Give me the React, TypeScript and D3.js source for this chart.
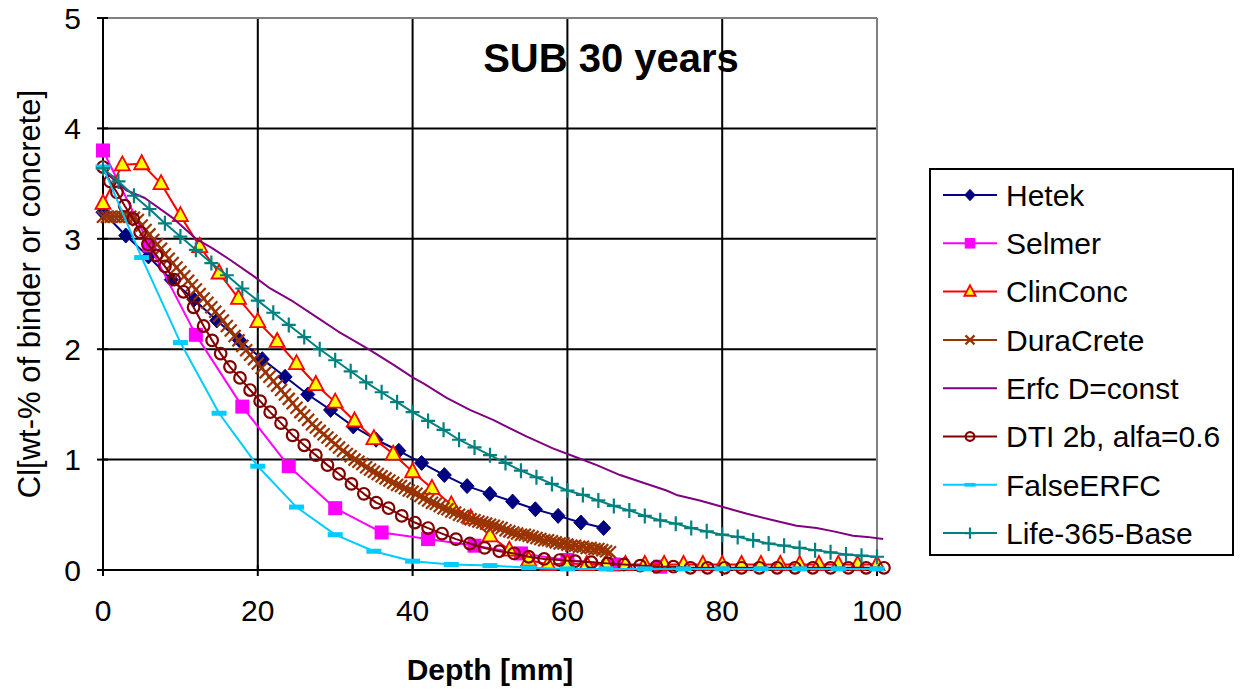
import React from "react";
import * as d3 from "d3";

const hetekX = [0, 2.94, 5.88, 8.82, 11.76, 14.7, 17.64, 20.58, 23.52, 26.46, 29.4, 32.34, 35.28, 38.22, 41.16, 44.1, 47.04, 49.98, 52.92, 55.86, 58.8, 61.74, 64.68];
const hetekY = [3.24, 3.03, 2.84, 2.63, 2.45, 2.26, 2.08, 1.91, 1.75, 1.59, 1.45, 1.30, 1.18, 1.08, 0.97, 0.86, 0.76, 0.69, 0.62, 0.55, 0.49, 0.43, 0.38];

const selmerX = [0, 6, 12, 18, 24, 30, 36, 42, 48, 54, 60, 66, 72];
const selmerY = [3.80, 2.94, 2.13, 1.48, 0.94, 0.56, 0.34, 0.28, 0.22, 0.15, 0.09, 0.05, 0.03];

const clinX = [0, 2.5, 5, 7.5, 10, 12.5, 15, 17.5, 20, 22.5, 25, 27.5, 30, 32.5, 35, 37.5, 40, 42.5, 45, 47.5, 50, 52.5, 55, 57.5, 60, 62.5, 65, 67.5, 70, 72.5, 75, 77.5, 80, 82.5, 85, 87.5, 90, 92.5, 95, 97.5, 100];
const clinY = [3.32, 3.67, 3.68, 3.50, 3.21, 2.93, 2.69, 2.46, 2.25, 2.07, 1.87, 1.68, 1.52, 1.35, 1.19, 1.05, 0.89, 0.74, 0.59, 0.47, 0.31, 0.18, 0.09, 0.05, 0.06, 0.05, 0.05, 0.05, 0.05, 0.05, 0.05, 0.05, 0.05, 0.05, 0.05, 0.05, 0.05, 0.05, 0.05, 0.05, 0.05];

const duraX = [0, 0.5, 1, 1.5, 2, 2.5, 3, 3.5, 4, 4.5, 5, 5.5, 6, 6.5, 7, 7.5, 8, 8.5, 9, 9.5, 10, 10.5, 11, 11.5, 12, 12.5, 13, 13.5, 14, 14.5, 15, 15.5, 16, 16.5, 17, 17.5, 18, 18.5, 19, 19.5, 20, 20.5, 21, 21.5, 22, 22.5, 23, 23.5, 24, 24.5, 25, 25.5, 26, 26.5, 27, 27.5, 28, 28.5, 29, 29.5, 30, 30.5, 31, 31.5, 32, 32.5, 33, 33.5, 34, 34.5, 35, 35.5, 36, 36.5, 37, 37.5, 38, 38.5, 39, 39.5, 40, 40.5, 41, 41.5, 42, 42.5, 43, 43.5, 44, 44.5, 45, 45.5, 46, 46.5, 47, 47.5, 48, 48.5, 49, 49.5, 50, 50.5, 51, 51.5, 52, 52.5, 53, 53.5, 54, 54.5, 55, 55.5, 56, 56.5, 57, 57.5, 58, 58.5, 59, 59.5, 60, 60.5, 61, 61.5, 62, 62.5, 63, 63.5, 64, 64.5, 65, 65.5];
const duraY = [3.20, 3.20, 3.20, 3.20, 3.20, 3.20, 3.20, 3.20, 3.19,
  3.17, 3.12, 3.08, 3.04, 2.99, 2.95, 2.91, 2.86, 2.82, 2.78, 2.74, 2.70,
  2.66, 2.62, 2.58, 2.54, 2.50, 2.46, 2.42, 2.38, 2.34, 2.30,
  2.26, 2.21, 2.17, 2.12, 2.08, 2.03, 1.99, 1.95, 1.91, 1.87,
  1.83, 1.79, 1.75, 1.71, 1.67, 1.63, 1.59, 1.55, 1.51, 1.47,
  1.43, 1.40, 1.36, 1.32, 1.29, 1.26, 1.23, 1.20, 1.17, 1.14,
  1.11, 1.08, 1.05, 1.03, 1.00, 0.98, 0.96, 0.93, 0.91, 0.89,
  0.87, 0.85, 0.83, 0.81, 0.79, 0.77, 0.76, 0.74, 0.72, 0.71,
  0.69, 0.67, 0.65, 0.63, 0.61, 0.60, 0.58, 0.56, 0.55, 0.53,
  0.52, 0.50, 0.49, 0.48, 0.46, 0.45, 0.44, 0.43, 0.42, 0.41,
  0.40, 0.39, 0.38, 0.36, 0.35, 0.34, 0.33, 0.32, 0.32, 0.31,
  0.30, 0.29, 0.28, 0.27, 0.27, 0.26, 0.25, 0.24, 0.24, 0.23,
  0.22, 0.22, 0.21, 0.21, 0.20, 0.20, 0.19, 0.19, 0.18, 0.17, 0.16];

const erfcX = [0, 3, 5.4, 9, 12, 14, 16.4, 19.5, 21.6, 24.6, 27.6, 30.4, 34.3, 37.5, 40.1, 41.4, 44.4, 47.4, 50.4, 54.7, 58.2, 60.8, 63.8, 66.8, 69.8, 72.8, 74.1, 77.1, 80.1, 83.2, 86.6, 89.6, 92.2, 94.4, 96.9, 98.7, 100.8];
const erfcY = [3.62, 3.44, 3.37, 3.19, 3.00, 2.92, 2.81, 2.66, 2.55, 2.43, 2.29, 2.16, 2.00, 1.86, 1.74, 1.69, 1.56, 1.45, 1.36, 1.21, 1.10, 1.03, 0.95, 0.86, 0.79, 0.72, 0.68, 0.63, 0.57, 0.51, 0.45, 0.40, 0.38, 0.35, 0.31, 0.30, 0.28];

const dtiX = [0, 0.9, 1.8, 2.8, 3.9, 4.8, 5.8, 6.9, 8.0, 9.2, 10.4, 11.7, 13.0, 14.1, 15.2, 16.4, 17.7, 19.0, 20.3, 21.6, 23.0, 24.5, 26.0, 27.5, 29.0, 30.5, 32.1, 33.7, 35.3, 36.9, 38.6, 40.3, 42.0, 43.8, 45.6, 47.4, 49.3, 51.2, 53.1, 55.0, 57.0, 59.0, 61.0, 63.1, 65.2, 67.3, 69.4, 71.5, 73.7, 75.9, 78.1, 80.3, 82.5, 84.8, 87.1, 89.4, 91.7, 94.0, 96.3, 98.6, 100.9];
const dtiY = [3.65, 3.52, 3.42, 3.30, 3.18, 3.06, 2.95, 2.85, 2.75, 2.63, 2.52, 2.38, 2.21, 2.08, 1.96, 1.84, 1.74, 1.63, 1.53, 1.43, 1.33, 1.22, 1.13, 1.04, 0.95, 0.87, 0.78, 0.69, 0.61, 0.56, 0.49, 0.43, 0.38, 0.33, 0.28, 0.24, 0.20, 0.17, 0.15, 0.12, 0.10, 0.09, 0.08, 0.07, 0.06, 0.05, 0.04, 0.03, 0.03, 0.02, 0.02, 0.02, 0.02, 0.02, 0.02, 0.02, 0.02, 0.02, 0.02, 0.02, 0.02];

const falseX = [0, 5, 10, 15, 20, 25, 30, 35, 40, 45, 50, 55, 60, 65, 70, 75, 80, 85, 90, 95, 100];
const falseY = [3.65, 2.83, 2.06, 1.42, 0.94, 0.57, 0.32, 0.17, 0.08, 0.05, 0.04, 0.02, 0.01, 0.01, 0.01, 0.01, 0.01, 0.01, 0.01, 0.01, 0.01];

const lifeX = [0, 2, 4, 6, 8, 10, 12, 14, 16, 18, 20, 22, 24, 26, 28, 30, 32, 34, 36, 38, 40, 42, 44, 46, 48, 50, 52, 54, 56, 58, 60, 62, 64, 66, 68, 70, 72, 74, 76, 78, 80, 82, 84, 86, 88, 90, 92, 94, 96, 98, 100];
const lifeY = [3.64, 3.52, 3.39, 3.27, 3.14, 3.02, 2.90, 2.78, 2.67, 2.55, 2.44, 2.33, 2.22, 2.11, 2.00, 1.90, 1.80, 1.70, 1.61, 1.52, 1.43, 1.35, 1.27, 1.18, 1.11, 1.04, 0.97, 0.90, 0.84, 0.78, 0.72, 0.68, 0.63, 0.58, 0.54, 0.49, 0.45, 0.42, 0.38, 0.35, 0.32, 0.30, 0.27, 0.24, 0.22, 0.20, 0.18, 0.16, 0.14, 0.13, 0.12];

const xTicks = [0, 20, 40, 60, 80, 100];
const yTicks = [0, 1, 2, 3, 4, 5];

const FONT = "'Liberation Sans', Arial, sans-serif";

type Marker = "diamond" | "square" | "triangle" | "cross" | "none" | "circle" | "dash" | "plus";
interface Series { name: string; xs: number[]; ys: number[]; color: string; marker: Marker; }

const series: Series[] = [
  { name: "Hetek", xs: hetekX, ys: hetekY, color: "#000080", marker: "diamond" },
  { name: "Selmer", xs: selmerX, ys: selmerY, color: "#FF00FF", marker: "square" },
  { name: "ClinConc", xs: clinX, ys: clinY, color: "#FF0000", marker: "triangle" },
  { name: "DuraCrete", xs: duraX, ys: duraY, color: "#993300", marker: "cross" },
  { name: "Erfc D=const", xs: erfcX, ys: erfcY, color: "#800080", marker: "none" },
  { name: "DTI 2b, alfa=0.6", xs: dtiX, ys: dtiY, color: "#800000", marker: "circle" },
  { name: "FalseERFC", xs: falseX, ys: falseY, color: "#00CCFF", marker: "dash" },
  { name: "Life-365-Base", xs: lifeX, ys: lifeY, color: "#008080", marker: "plus" },
];

function drawMarker(m: Marker, cx: number, cy: number, color: string, key: string, s = 1) {
  switch (m) {
    case "diamond":
      return <path key={key} d={`M${cx},${cy - 7.5 * s}L${cx + 7 * s},${cy}L${cx},${cy + 7.5 * s}L${cx - 7 * s},${cy}Z`} fill={color} stroke={color} strokeWidth={1} />;
    case "square":
      return <rect key={key} x={cx - 7 * s} y={cy - 7 * s} width={14 * s} height={14 * s} fill={color} />;
    case "triangle":
      return <path key={key} d={`M${cx},${cy - 8.5 * s}L${cx + 7.5 * s},${cy + 5.5 * s}L${cx - 7.5 * s},${cy + 5.5 * s}Z`} fill="#FFFF00" stroke="#FF0000" strokeWidth={1.8} />;
    case "cross":
      return <path key={key} d={`M${cx - 6 * s},${cy - 6 * s}L${cx + 6 * s},${cy + 6 * s}M${cx + 6 * s},${cy - 6 * s}L${cx - 6 * s},${cy + 6 * s}`} stroke={color} strokeWidth={2.2} fill="none" />;
    case "circle":
      return <circle key={key} cx={cx} cy={cy} r={5.8 * s} fill="none" stroke={color} strokeWidth={2.2} />;
    case "dash":
      return <rect key={key} x={cx - 7.5 * s} y={cy - 2.5 * s} width={15 * s} height={5 * s} fill={color} />;
    case "plus":
      return <path key={key} d={`M${cx - 7 * s},${cy}L${cx + 7 * s},${cy}M${cx},${cy - 7.5 * s}L${cx},${cy + 7.5 * s}`} stroke={color} strokeWidth={2.2} fill="none" />;
    default:
      return null;
  }
}

export default function App() {
  const W = 1241, H = 691;
  const x = d3.scaleLinear().domain([0, 100]).range([103, 877]);
  const y = d3.scaleLinear().domain([0, 5]).range([570, 18]);
  const line = d3.line<[number, number]>().x(d => x(d[0])).y(d => y(d[1]));

  const legX = 930, legY = 169, legW = 303, legH = 386;
  const legStep = 48.3;

  return (
    <svg width={W} height={H} style={{ position: "absolute", left: 0, top: 0, background: "#fff" }} fontFamily={FONT}>
      <rect x={0} y={0} width={W} height={H} fill="#fff" />
      {xTicks.filter(t => t > 0 && t < 100).map(t => (
        <line key={"gx" + t} x1={x(t)} x2={x(t)} y1={y(5)} y2={y(0)} stroke="#000" strokeWidth={2} />
      ))}
      {yTicks.filter(t => t > 0 && t < 5).map(t => (
        <line key={"gy" + t} x1={x(0)} x2={x(100)} y1={y(t)} y2={y(t)} stroke="#000" strokeWidth={2} />
      ))}
      <line x1={x(0)} x2={x(100)} y1={y(5)} y2={y(5)} stroke="#808080" strokeWidth={2} />
      <line x1={x(100)} x2={x(100)} y1={y(5)} y2={y(0)} stroke="#808080" strokeWidth={2} />
      <line x1={x(0)} x2={x(0)} y1={y(5)} y2={y(0)} stroke="#000" strokeWidth={2} />
      <line x1={x(0)} x2={x(100)} y1={y(0)} y2={y(0)} stroke="#000" strokeWidth={2} />
      {yTicks.map(t => (
        <g key={"yt" + t}>
          <line x1={x(0) - 6} x2={x(0) + 5} y1={y(t)} y2={y(t)} stroke="#000" strokeWidth={2} />
          <text x={81} y={y(t)} dy="0.36em" textAnchor="end" fontSize={30}>{t}</text>
        </g>
      ))}
      {xTicks.map(t => (
        <g key={"xt" + t}>
          <line x1={x(t)} x2={x(t)} y1={y(0) - 5} y2={y(0) + 6} stroke="#000" strokeWidth={2} />
          <text x={x(t)} y={621} textAnchor="middle" fontSize={30}>{t}</text>
        </g>
      ))}
      {series.map(s => {
        const pts: [number, number][] = s.xs.map((v, i) => [v, s.ys[i]]);
        return (
          <g key={s.name}>
            <path d={line(pts) || ""} fill="none" stroke={s.color} strokeWidth={2} strokeLinejoin="round" />
            {pts.map((p, i) => drawMarker(s.marker, x(p[0]), y(p[1]), s.color, s.name + i))}
          </g>
        );
      })}
      <text x={611} y={72} textAnchor="middle" fontSize={40} fontWeight="bold">SUB 30 years</text>
      <text x={490} y={680} textAnchor="middle" fontSize={30} fontWeight="bold">Depth [mm]</text>
      <text transform={`translate(40,294) rotate(-90)`} textAnchor="middle" fontSize={31}>Cl[wt-% of binder or concrete]</text>
      <rect x={legX} y={legY} width={legW} height={legH} fill="#fff" stroke="#000" strokeWidth={2} />
      {series.map((s, i) => {
        const cy = legY + 26 + i * legStep;
        return (
          <g key={"leg" + s.name}>
            <line x1={943} x2={997} y1={cy} y2={cy} stroke={s.color} strokeWidth={2} />
            {drawMarker(s.marker, 970, cy, s.color, "lm" + i, 0.75)}
            <text x={1006} y={cy} dy="0.36em" fontSize={30}>{s.name}</text>
          </g>
        );
      })}
    </svg>
  );
}
